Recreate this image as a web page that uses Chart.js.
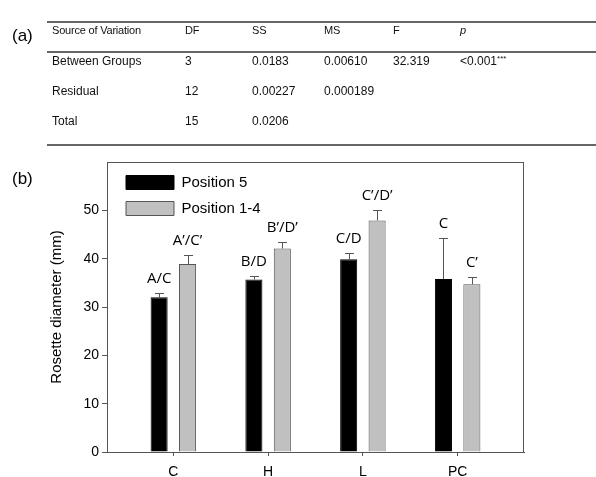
<!DOCTYPE html>
<html lang="en">
<head>
<meta charset="UTF-8">
<title>Rosette diameter</title>
<style>
  body { margin: 0; background: #fff; font-family: "Liberation Sans", Arial, sans-serif; color: #111; }
  #wrap { position: relative; width: 596px; height: 477px; overflow: hidden; }
  #chart { position: absolute; left: 0; top: 0; }
  .panel { position: absolute; left: 12px; font-size: 17px; color: #000; }
  .rule { position: absolute; left: 47px; right: 0; height: 2px; background: #666; }
  .cell { position: absolute; font-size: 12px; line-height: 14px; white-space: nowrap; color: #111; }
  .head { font-size: 11px; letter-spacing: -0.2px; }
  .cell sup { font-size: 8px; vertical-align: 4px; line-height: 0; }
</style>
</head>
<body>
<div id="wrap">
  <canvas id="chart" width="596" height="477"></canvas>
  <div class="panel" style="top:26px">(a)</div>
  <div class="panel" style="top:169px">(b)</div>
  <div class="rule" style="top:21px"></div>
  <div class="rule" style="top:51px"></div>
  <div class="rule" style="top:144px"></div>
  <div id="table"></div>
</div>

<script src="https://cdn.jsdelivr.net/npm/chart.js"></script>
<script>
// ANOVA table (a)
const tableHead = ['Source of Variation', 'DF', 'SS', 'MS', 'F', 'p'];
const tableRows = [
  ['Between Groups', '3', '0.0183', '0.00610', '32.319', '<0.001***'],
  ['Residual', '12', '0.00227', '0.000189', '', ''],
  ['Total', '15', '0.0206', '', '', '']
];
const colX = [52, 185, 252, 324, 393, 460];
const rowY = [30, 61, 91, 121];

// bar chart (b)
const categories = ['C', 'H', 'L', 'PC'];
const pos5 = [32.0, 35.7, 39.9, 35.8];
const pos5Err = [0.8, 0.7, 1.3, 8.5];
const pos14 = [38.9, 42.1, 47.9, 34.7];
const pos14Err = [1.9, 1.4, 2.1, 1.6];
const pos5Letters = ['A/C', 'B/D', 'C/D', 'C'];
const pos14Letters = ['A\u2019/C\u2019', 'B\u2019/D\u2019', 'C\u2019/D\u2019', 'C\u2019'];
const yTicks = [0, 10, 20, 30, 40, 50];

// build the table
const table = document.getElementById('table');
function addCell(text, col, row, isHead) {
  const el = document.createElement('div');
  el.className = 'cell' + (isHead ? ' head' : '');
  el.style.left = colX[col] + 'px';
  el.style.top = (rowY[row] - 7) + 'px';
  if (text.endsWith('***')) {
    el.textContent = text.slice(0, -3);
    const sup = document.createElement('sup');
    sup.textContent = '***';
    el.appendChild(sup);
  } else {
    el.textContent = text;
  }
  if (isHead && text === 'p') el.style.fontStyle = 'italic';
  table.appendChild(el);
}
tableHead.forEach((t, c) => addCell(t, c, 0, true));
tableRows.forEach((r, ri) => r.forEach((t, c) => { if (t) addCell(t, c, ri + 1, false); }));

// error bars, letters, frame
const extras = {
  id: 'extras',
  afterLayout(chart) {
    // put the legend in the top left corner of the plot
    const a = chart.chartArea;
    chart.legend.left = a.left + 8;
    chart.legend.top = a.top + 2;
    chart.legend.bottom = a.bottom;
  },
  afterDatasetsDraw(chart) {
    const ctx = chart.ctx;
    const y = chart.scales.y;
    const sets = [[pos5, pos5Err, pos5Letters], [pos14, pos14Err, pos14Letters]];
    ctx.save();
    sets.forEach(([vals, errs, letters], d) => {
      chart.getDatasetMeta(d).data.forEach((bar, i) => {
        const top = Math.round(y.getPixelForValue(vals[i] + errs[i])) + 0.5;
        const cx = Math.round(bar.x) + 0.5;
        ctx.strokeStyle = '#555';
        ctx.lineWidth = 1;
        ctx.beginPath();
        ctx.moveTo(cx, bar.y);
        ctx.lineTo(cx, top);
        ctx.moveTo(cx - 4.5, top);
        ctx.lineTo(cx + 4.5, top);
        ctx.stroke();
        ctx.fillStyle = '#000';
        ctx.font = '15px "Open Sans"';
        ctx.textAlign = 'center';
        ctx.textBaseline = 'alphabetic';
        ctx.fillText(letters[i], bar.x, top - 11);
      });
    });
    const a = chart.chartArea;
    ctx.strokeStyle = '#555';
    ctx.lineWidth = 1;
    ctx.strokeRect(a.left + 0.5, a.top + 0.5, a.right - a.left - 1, a.bottom - a.top);
    ctx.restore();
  }
};

new Chart(document.getElementById('chart'), {
  type: 'bar',
  data: {
    datasets: [{
      label: 'Position 5',
      data: categories.map((c, i) => ({ x: i, y: pos5[i] })),
      backgroundColor: '#000',
      borderColor: '#000',
      borderWidth: 1
    }, {
      label: 'Position 1-4',
      data: categories.map((c, i) => ({ x: i, y: pos14[i] })),
      backgroundColor: '#c0c0c0',
      borderColor: '#555',
      borderWidth: 1
    }]
  },
  options: {
    responsive: false,
    animation: false,
    events: [],
    categoryPercentage: 0.6,
    barPercentage: 0.6,
    layout: { padding: { top: 162, right: 72, left: 0, bottom: 0 } },
    font: { family: '"Liberation Sans", Arial, sans-serif' },
    scales: {
      x: {
        type: 'linear',
        min: -0.7,
        max: 3.7,
        offset: false,
        afterBuildTicks: s => { s.ticks = categories.map((c, i) => ({ value: i })); },
        afterFit: s => { s.height = 25; },
        ticks: {
          callback: v => categories[v],
          font: { size: 14 },
          color: '#000',
          padding: 8,
          maxRotation: 0,
          autoSkip: false
        },
        grid: { offset: false, drawOnChartArea: false, tickLength: 4, color: '#555' },
        border: { color: '#555' }
      },
      y: {
        min: 0,
        max: 60,
        afterBuildTicks: s => { s.ticks = yTicks.map(v => ({ value: v })); },
        afterFit: s => { s.width = 107; },
        ticks: { font: { size: 14 }, color: '#000', padding: 3 },
        grid: { drawOnChartArea: false, tickLength: 5, color: '#555' },
        border: { color: '#555' },
        title: {
          display: true,
          text: 'Rosette diameter (mm)',
          font: { size: 15 },
          color: '#000',
          padding: { top: 48, bottom: 0 }
        }
      }
    },
    plugins: {
      legend: {
        position: 'chartArea',
        align: 'start',
        labels: { boxWidth: 48, boxHeight: 14, padding: 11, font: { size: 15 }, color: '#000' }
      },
      tooltip: { enabled: false }
    }
  },
  plugins: [extras]
});
</script>
</body>
</html>
